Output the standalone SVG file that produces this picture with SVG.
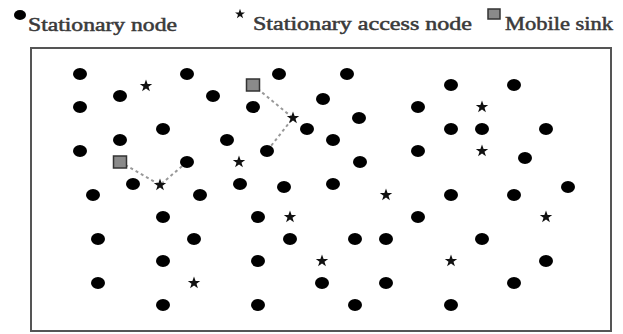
<svg xmlns="http://www.w3.org/2000/svg" xmlns:xlink="http://www.w3.org/1999/xlink" width="623" height="334" viewBox="0 0 623 334">
<style>
.lbl{font-family:"Liberation Serif","Times New Roman",serif;font-size:18px;fill:#3a3a3a;stroke:#3a3a3a;stroke-width:0.5}
.dot{fill:#000}
.star{fill:#111}
.sink{fill:#8a8a8a;stroke:#333;stroke-width:1.5}
.link{fill:none;stroke:#999;stroke-width:2;stroke-dasharray:3 3}
</style>
<defs>
<ellipse id="d" cx="0" cy="0" rx="7" ry="6" class="dot"/>
<polygon id="s" class="star" points="0,-6.5 1.6,-2 6.2,-2 2.5,0.8 3.9,5.3 0,2.6 -3.9,5.3 -2.5,0.8 -6.2,-2 -1.6,-2"/>
<rect id="k" x="-6.5" y="-6" width="13" height="12" class="sink"/>
</defs>
<rect width="623" height="334" fill="#fff"/>
<g id="legend">
<ellipse cx="20" cy="15" rx="6" ry="5" class="dot"/>
<text class="lbl" x="28" y="31" textLength="149" lengthAdjust="spacingAndGlyphs">Stationary node</text>
<use xlink:href="#s" transform="translate(240,14) scale(0.8)"/>
<text class="lbl" x="253" y="30" textLength="219" lengthAdjust="spacingAndGlyphs">Stationary access node</text>
<rect x="488" y="9" width="12" height="10" class="sink"/>
<text class="lbl" x="505" y="30" textLength="108" lengthAdjust="spacingAndGlyphs">Mobile sink</text>
</g>
<rect id="frame" x="31" y="48" width="580" height="283" fill="none" stroke="#555" stroke-width="2"/>
<g id="connectors">
<polyline class="link" points="253,85 293,118 267,151"/>
<polyline class="link" points="120,162 160,185 187,162"/>
</g>
<g id="nodes">
<g id="n1"><use xlink:href="#d" x="80" y="74"/></g>
<g id="n2"><use xlink:href="#d" x="187" y="74"/></g>
<g id="n3"><use xlink:href="#d" x="279" y="74"/></g>
<g id="n4"><use xlink:href="#d" x="347" y="74"/></g>
<g id="n5"><use xlink:href="#d" x="451" y="85"/></g>
<g id="n6"><use xlink:href="#d" x="514" y="85"/></g>
<g id="n7"><use xlink:href="#d" x="120" y="96"/></g>
<g id="n8"><use xlink:href="#d" x="213" y="96"/></g>
<g id="n9"><use xlink:href="#d" x="323" y="99"/></g>
<g id="n10"><use xlink:href="#d" x="80" y="107"/></g>
<g id="n11"><use xlink:href="#d" x="253" y="107"/></g>
<g id="n12"><use xlink:href="#d" x="418" y="107"/></g>
<g id="n13"><use xlink:href="#d" x="359" y="118"/></g>
<g id="n14"><use xlink:href="#d" x="163" y="129"/></g>
<g id="n15"><use xlink:href="#d" x="307" y="129"/></g>
<g id="n16"><use xlink:href="#d" x="451" y="129"/></g>
<g id="n17"><use xlink:href="#d" x="482" y="129"/></g>
<g id="n18"><use xlink:href="#d" x="546" y="129"/></g>
<g id="n19"><use xlink:href="#d" x="120" y="140"/></g>
<g id="n20"><use xlink:href="#d" x="227" y="140"/></g>
<g id="n21"><use xlink:href="#d" x="333" y="140"/></g>
<g id="n22"><use xlink:href="#d" x="80" y="151"/></g>
<g id="n23"><use xlink:href="#d" x="267" y="151"/></g>
<g id="n24"><use xlink:href="#d" x="418" y="151"/></g>
<g id="n25"><use xlink:href="#d" x="187" y="162"/></g>
<g id="n26"><use xlink:href="#d" x="360" y="162"/></g>
<g id="n27"><use xlink:href="#d" x="525" y="158"/></g>
<g id="n28"><use xlink:href="#d" x="133" y="184"/></g>
<g id="n29"><use xlink:href="#d" x="240" y="184"/></g>
<g id="n30"><use xlink:href="#d" x="284" y="187"/></g>
<g id="n31"><use xlink:href="#d" x="333" y="184"/></g>
<g id="n32"><use xlink:href="#d" x="93" y="195"/></g>
<g id="n33"><use xlink:href="#d" x="200" y="195"/></g>
<g id="n34"><use xlink:href="#d" x="451" y="195"/></g>
<g id="n35"><use xlink:href="#d" x="514" y="195"/></g>
<g id="n36"><use xlink:href="#d" x="568" y="187"/></g>
<g id="n37"><use xlink:href="#d" x="163" y="217"/></g>
<g id="n38"><use xlink:href="#d" x="258" y="217"/></g>
<g id="n39"><use xlink:href="#d" x="418" y="217"/></g>
<g id="n40"><use xlink:href="#d" x="98" y="239"/></g>
<g id="n41"><use xlink:href="#d" x="194" y="239"/></g>
<g id="n42"><use xlink:href="#d" x="290" y="239"/></g>
<g id="n43"><use xlink:href="#d" x="355" y="239"/></g>
<g id="n44"><use xlink:href="#d" x="386" y="239"/></g>
<g id="n45"><use xlink:href="#d" x="482" y="239"/></g>
<g id="n46"><use xlink:href="#d" x="163" y="261"/></g>
<g id="n47"><use xlink:href="#d" x="258" y="261"/></g>
<g id="n48"><use xlink:href="#d" x="546" y="261"/></g>
<g id="n49"><use xlink:href="#d" x="98" y="283"/></g>
<g id="n50"><use xlink:href="#d" x="322" y="283"/></g>
<g id="n51"><use xlink:href="#d" x="386" y="283"/></g>
<g id="n52"><use xlink:href="#d" x="514" y="283"/></g>
<g id="n53"><use xlink:href="#d" x="163" y="305"/></g>
<g id="n54"><use xlink:href="#d" x="258" y="305"/></g>
<g id="n55"><use xlink:href="#d" x="355" y="305"/></g>
<g id="n56"><use xlink:href="#d" x="451" y="305"/></g>
<g id="a1"><use xlink:href="#s" x="146" y="86"/></g>
<g id="a2"><use xlink:href="#s" x="482" y="107"/></g>
<g id="a3"><use xlink:href="#s" x="293" y="118"/></g>
<g id="a4"><use xlink:href="#s" x="482" y="151"/></g>
<g id="a5"><use xlink:href="#s" x="239" y="162"/></g>
<g id="a6"><use xlink:href="#s" x="160" y="185"/></g>
<g id="a7"><use xlink:href="#s" x="386" y="195"/></g>
<g id="a8"><use xlink:href="#s" x="290" y="217"/></g>
<g id="a9"><use xlink:href="#s" x="546" y="217"/></g>
<g id="a10"><use xlink:href="#s" x="322" y="261"/></g>
<g id="a11"><use xlink:href="#s" x="451" y="261"/></g>
<g id="a12"><use xlink:href="#s" x="194" y="283"/></g>
<g id="sink1"><use xlink:href="#k" x="253" y="85"/></g>
<g id="sink2"><use xlink:href="#k" x="120" y="162"/></g>
</g>
</svg>
